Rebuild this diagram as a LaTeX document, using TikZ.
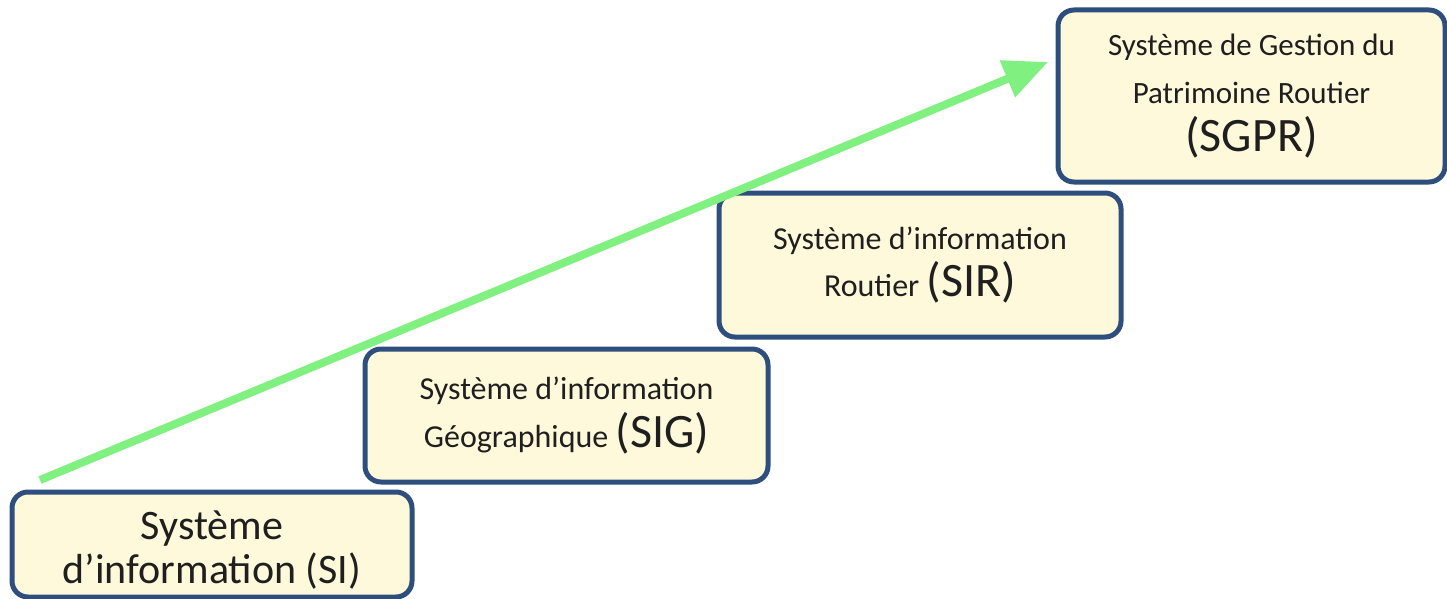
\documentclass[tikz,border=0pt]{standalone}
\usepackage{fontspec}
\setmainfont{Carlito}
\usetikzlibrary{arrows.meta}
\definecolor{boxfill}{HTML}{FEF9DA}
\definecolor{boxline}{HTML}{2E4F7E}
\definecolor{arrowgreen}{HTML}{80F080}
\tikzset{
  stagebox/.style={draw=boxline, fill=boxfill, line width=5pt, rounded corners=16pt,
    align=center, inner sep=0pt, text=black!88},
  growarrow/.style={draw=arrowgreen, line width=8pt,
    -{Triangle[length=44pt,width=38pt]}},
}
\newcommand{\bigtxt}{\fontsize{48}{47}\selectfont}
\begin{document}
\begin{tikzpicture}[x=1pt,y=-1pt]
\useasboundingbox (0,0) rectangle (1447,599);
\fill[white] (0,0) rectangle (1447,599);
\node[stagebox, minimum width=400pt, minimum height=105pt,
  font=\fontsize{42}{44}\selectfont] (si) at (212,544.5)
  {\rule{0pt}{40pt}Système\\d’information (SI)};
\node[stagebox, minimum width=403pt, minimum height=133pt,
  font=\fontsize{32}{48}\selectfont] (sig) at (566.5,415.5)
  {Système d’information\\Géographique {\bigtxt(SIG)}};
\node[stagebox, minimum width=402pt, minimum height=144pt,
  font=\fontsize{32}{47}\selectfont] (sir) at (920,265)
  {Système d’information\\Routier {\bigtxt(SIR)}};
\node[stagebox, minimum width=387pt, minimum height=172pt,
  font=\fontsize{31}{48}\selectfont] (sgpr) at (1251.5,96)
  {Système de Gestion du\\Patrimoine Routier\\{\bigtxt(SGPR)}};
\coordinate (start) at (40,480);
\coordinate (tip) at (1048,62);
\draw[growarrow] (start) -- (tip);
\end{tikzpicture}
\end{document}
